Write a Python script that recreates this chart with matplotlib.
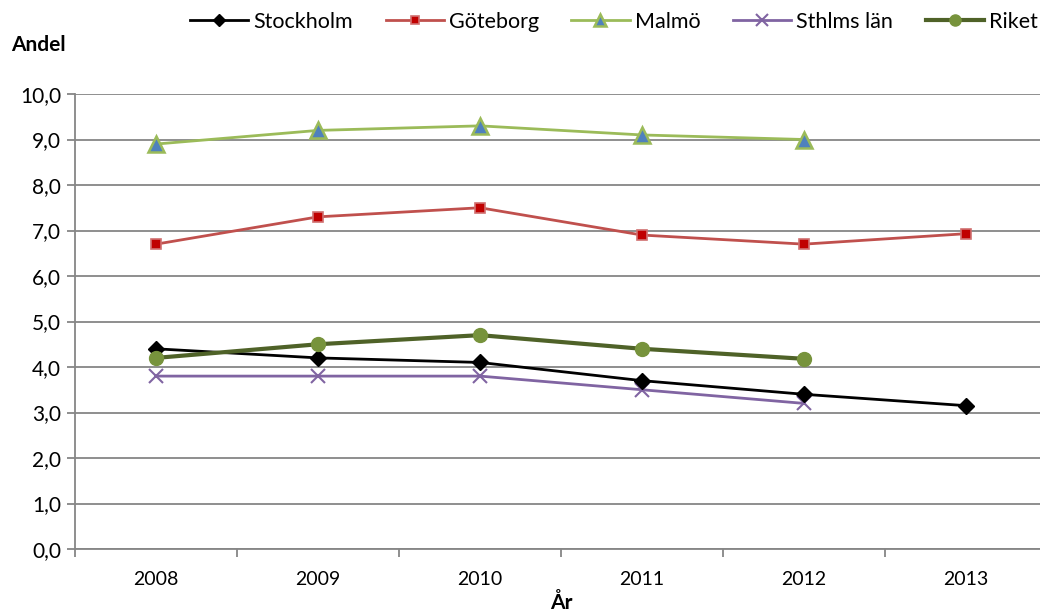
import matplotlib
matplotlib.use("Agg")
import matplotlib.pyplot as plt
import numpy as np
from matplotlib.ticker import FixedLocator, FuncFormatter

plt.rcParams['font.family'] = ['Lato', 'DejaVu Sans']

years = ['2008', '2009', '2010', '2011', '2012', '2013']
stockholm = [4.4, 4.2, 4.1, 3.7, 3.4, 3.15]
goteborg = [6.7, 7.3, 7.5, 6.9, 6.7, 6.93]
malmo = [8.9, 9.2, 9.3, 9.1, 9.0]
sthlms_lan = [3.8, 3.8, 3.8, 3.5, 3.2]
riket = [4.2, 4.5, 4.7, 4.4, 4.18]

W, H = 1040, 614
fig = plt.figure(figsize=(W/100, H/100), dpi=100)
left, right, top, bottom = 75, 1047, 94, 549
ax = fig.add_axes([left/W, 1 - bottom/H, (right-left)/W, (bottom-top)/H])

x = np.arange(len(years))
ax.plot(x[:len(stockholm)], stockholm, color='black', lw=2, marker='D', ms=8,
        mfc='black', mec='black', label='Stockholm', zorder=5)
ax.plot(x[:len(goteborg)], goteborg, color='#C0504D', lw=2, marker='s', ms=7.5,
        mfc='#C00000', mec='#D07070', mew=1.2, label='Göteborg', zorder=4)
ax.plot(x[:len(malmo)], malmo, color='#9BBB59', lw=2, marker='^', ms=11,
        mfc='#4F81BD', mec='#9BBB59', mew=1.8, label='Malmö', zorder=4)
ax.plot(x[:len(sthlms_lan)], sthlms_lan, color='#8064A2', lw=2, marker='x', ms=10,
        mew=1.5, label='Sthlms län', zorder=4)
ax.plot(x[:len(riket)], riket, color='#4F6228', lw=3, marker='o', ms=10,
        mfc='#77933C', mec='#77933C', label='Riket', zorder=6)

ax.set_xlim(-0.5, 5.5)
ax.set_ylim(0, 10)
ax.set_yticks(np.arange(0, 10.01, 1.0))
ax.yaxis.set_major_formatter(FuncFormatter(lambda v, p: f"{v:.1f}".replace('.', ',')))
ax.grid(axis='y', color='#868686', lw=1.3)
ax.set_axisbelow(True)

ax.set_xticks(x)
ax.set_xticklabels(years)
ax.xaxis.set_minor_locator(FixedLocator(np.arange(-0.5, 5.6, 1.0)))
ax.tick_params(axis='x', which='major', length=0, pad=16, labelsize=14)
ax.tick_params(axis='x', which='minor', length=6, color='#868686', width=1.3)
ax.tick_params(axis='y', length=6, color='#868686', width=1.3, labelsize=15, pad=4)

for s in ['top', 'right']:
    ax.spines[s].set_visible(False)
for s in ['left', 'bottom']:
    ax.spines[s].set_color('#868686')
    ax.spines[s].set_linewidth(1.3)

fig.text(11/W, 1 - 45/H, 'Andel', fontsize=15, fontweight='bold', va='center', ha='left')
fig.text(561/W, 1 - 603/H, 'År', fontsize=15, fontweight='bold', ha='center', va='center')

handles, labels = ax.get_legend_handles_labels()
fig.legend(handles, labels, loc='center', bbox_to_anchor=(614/W, 1 - 22/H), ncol=5,
           frameon=False, fontsize=15.5, handlelength=2.7, handletextpad=0.25,
           columnspacing=1.5, markerscale=0.8)

fig.savefig('out.png', dpi=100)
